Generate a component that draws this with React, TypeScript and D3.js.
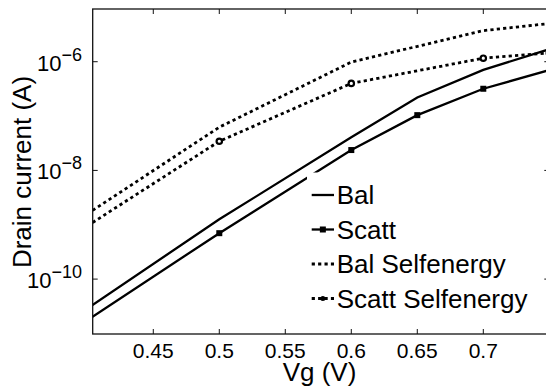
import React from "react";
import * as d3 from "d3";

const vgBal = [0.4, 0.5, 0.6, 0.65, 0.7, 0.75];
const balCurrent = [2.88e-11, 1.26e-9, 4.07e-8, 2.19e-7, 7.08e-7, 1.7e-6];
const vgScatt = [0.4, 0.5, 0.6, 0.65, 0.7, 0.75];
const scattCurrent = [1.76e-11, 7.0e-10, 2.37e-8, 1.04e-7, 3.18e-7, 7.0e-7];
const vgBalSE = [0.4, 0.5, 0.6, 0.7, 0.75];
const balSECurrent = [1.58e-9, 6.24e-8, 9.86e-7, 3.73e-6, 5.05e-6];
const vgScattSE = [0.4, 0.5, 0.6, 0.7, 0.75];
const scattSECurrent = [9.5e-10, 3.44e-8, 3.99e-7, 1.16e-6, 1.45e-6];

const xTicks = [0.45, 0.5, 0.55, 0.6, 0.65, 0.7];
const xTickLabels = ["0.45", "0.5", "0.55", "0.6", "0.65", "0.7"];
const yTicks = [1e-10, 1e-8, 1e-6];
const yTickExps = ["−10", "−8", "−6"];
const legendLabels = ["Bal", "Scatt", "Bal Selfenergy", "Scatt Selfenergy"];

const W = 546;
const H = 387;
const left = 92.7;
const right = 549.3;
const top = 9;
const bottom = 334;
const font = "'Liberation Sans', Arial, Helvetica, sans-serif";

export default function App() {
  const x = d3.scaleLinear().domain([0.4041, 0.75]).range([left, right]);
  const y = d3.scaleLog().domain([Math.pow(10, -11.01), Math.pow(10, -5.03)]).range([bottom, top]);
  const line = d3
    .line<[number, number]>()
    .x((d) => x(d[0]))
    .y((d) => y(d[1]));
  const zip = (a: number[], b: number[]) => a.map((v, i) => [v, b[i]] as [number, number]);

  const bal = zip(vgBal, balCurrent);
  const scatt = zip(vgScatt, scattCurrent);
  const balSE = zip(vgBalSE, balSECurrent);
  const scattSE = zip(vgScattSE, scattSECurrent);

  const dash = "3.2,3.2";
  const lgX0 = 311.7;
  const lgX1 = 334;
  const lgRows = [195, 229.5, 264, 298.5];

  return (
    <svg width={W} height={H} style={{ position: "absolute", left: 0, top: 0, background: "#fff" }}>
      <defs>
        <clipPath id="plotclip">
          <rect x={left} y={top} width={right - left} height={bottom - top} />
        </clipPath>
      </defs>
      <rect x={0} y={0} width={W} height={H} fill="#fff" />
      <g clipPath="url(#plotclip)">
        <path d={line(balSE) || ""} fill="none" stroke="#000" strokeWidth={2.8} strokeDasharray={dash} />
        <path d={line(scattSE) || ""} fill="none" stroke="#000" strokeWidth={2.8} strokeDasharray={dash} />
        <path d={line(bal) || ""} fill="none" stroke="#000" strokeWidth={2.3} />
        <path d={line(scatt) || ""} fill="none" stroke="#000" strokeWidth={2.3} />
        {scatt.map((d, i) => (
          <rect key={"s" + i} x={x(d[0]) - 3} y={y(d[1]) - 3} width={6} height={6} fill="#000" />
        ))}
        {scattSE.map((d, i) => (
          <circle key={"c" + i} cx={x(d[0])} cy={y(d[1])} r={2.7} fill="#fff" stroke="#000" strokeWidth={2.2} />
        ))}
      </g>
      {/* frame */}
      <rect x={left} y={top} width={right - left} height={bottom - top} fill="none" stroke="#111" strokeWidth={1.3} />
      {/* x ticks */}
      {xTicks.map((t, i) => (
        <g key={"xt" + i}>
          <line x1={x(t)} x2={x(t)} y1={bottom} y2={bottom - 5} stroke="#111" strokeWidth={1} />
          <line x1={x(t)} x2={x(t)} y1={top} y2={top + 5} stroke="#111" strokeWidth={1} />
          <text x={x(t)} y={357.5} textAnchor="middle" fontFamily={font} fontSize={21} fill="#000">
            {xTickLabels[i]}
          </text>
        </g>
      ))}
      {/* y ticks */}
      {yTicks.map((t, i) => (
        <g key={"yt" + i}>
          <line x1={left} x2={left + 5} y1={y(t)} y2={y(t)} stroke="#111" strokeWidth={1} />
          <line x1={right} x2={right - 5} y1={y(t)} y2={y(t)} stroke="#111" strokeWidth={1} />
          <text x={82} y={y(t) + 9} textAnchor="end" fontFamily={font} fontSize={22} fill="#000">
            <tspan>10</tspan>
            <tspan dy={-10} fontSize={18}>
              {yTickExps[i]}
            </tspan>
          </text>
        </g>
      ))}
      {/* axis labels */}
      <text x={319.5} y={381} textAnchor="middle" fontFamily={font} fontSize={26} fill="#000">
        Vg (V)
      </text>
      <text
        transform={`translate(31,172) rotate(-90)`}
        textAnchor="middle"
        fontFamily={font}
        fontSize={26}
        fill="#000"
      >
        Drain current (A)
      </text>
      {/* legend */}
      <rect x={307} y={172.5} width={232} height={146} fill="#fff" />
      {legendLabels.map((lab, i) => {
        const cy = lgRows[i];
        const mid = (lgX0 + lgX1) / 2;
        return (
          <g key={"lg" + i}>
            <line
              x1={lgX0}
              x2={lgX1}
              y1={cy}
              y2={cy}
              stroke="#000"
              strokeWidth={i < 2 ? 2.3 : 2.8}
              strokeDasharray={i < 2 ? undefined : dash}
            />
            {i === 1 && <rect x={mid - 3} y={cy - 3} width={6} height={6} fill="#000" />}
            {i === 3 && <circle cx={mid} cy={cy} r={2.5} fill="#000" />}
            <text x={336.7} y={cy + 9.3} fontFamily={font} fontSize={26} fill="#000">
              {lab}
            </text>
          </g>
        );
      })}
    </svg>
  );
}
